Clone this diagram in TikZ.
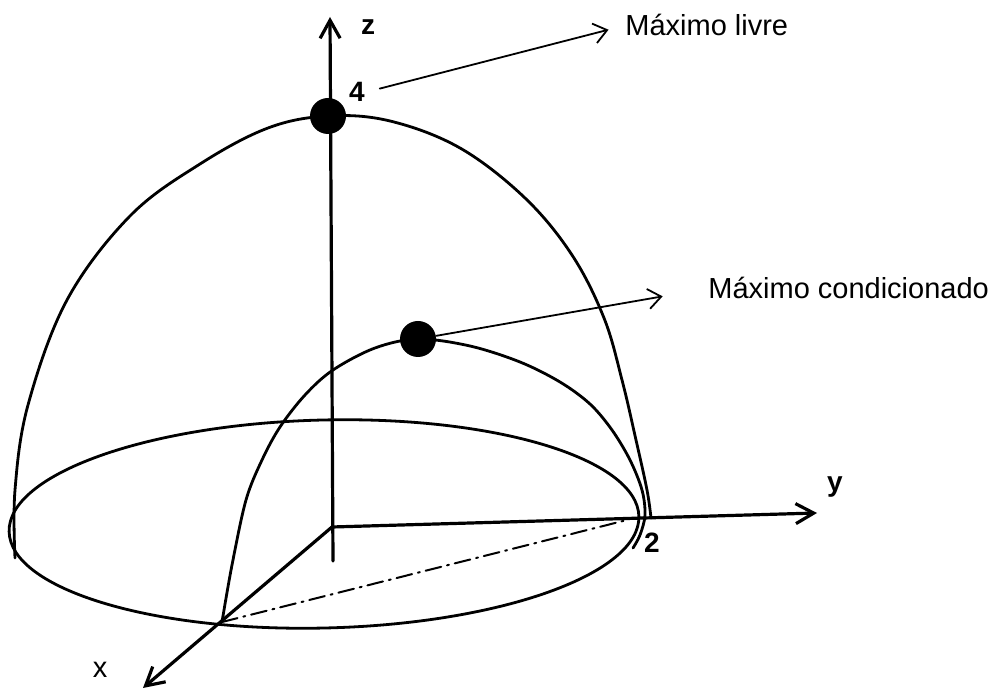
\documentclass[tikz,border=0pt]{standalone}
\usepackage{fontspec}
\setmainfont{Liberation Sans}
\usetikzlibrary{arrows.meta}

\begin{document}
\begin{tikzpicture}[x=0.5pt, y=-0.5pt, line cap=round,
  axis/.style={line width=1.6pt, -{Straight Barb[length=9pt, width=10pt]}},
  curve/.style={line width=1.4pt},
  pointer/.style={line width=0.9pt, -{Straight Barb[length=6.5pt, width=10pt]}},
  lab/.style={font=\fontsize{14}{16}\selectfont\bfseries, inner sep=0pt, anchor=base},
  txt/.style={font=\fontsize{14.5}{17}\selectfont, inner sep=0pt, anchor=base west},
  dot/.style={circle, fill=black, inner sep=0pt, minimum size=18pt}]
  \useasboundingbox (0,0) rectangle (997,689);

  % Axes (origin, tips)
  \coordinate (O) at (332,527);
  \coordinate (zFoot) at (333,561);
  \coordinate (zTip) at (330,17);
  \coordinate (yTip) at (817,513);
  \coordinate (xTip) at (143,688);
  \draw[axis] (zFoot) -- (zTip);
  \draw[axis] (O) -- (yTip);
  \draw[axis] (O) -- (xTip);

  % Base of the dome
  \draw[curve] (324,524) ellipse [x radius=157.5pt, y radius=52pt, rotate=1.4];

  % Large dome (free problem)
  \draw[curve] plot[smooth, tension=0.6] coordinates {(15,558) (15,490) (28,405) (67,300)
    (130,216) (200,164) (268,128) (328,116) (390,121) (460,148) (525,198)
    (572,255) (604,318) (622,380) (636,440) (647,490) (651,518)};

  % Small dome (constrained problem)
  \draw[curve] plot[smooth, tension=0.55] coordinates {(222,622) (232,565) (246,500) (262,460)
    (280,427) (305,395) (333,370) (375,348) (418,339) (470,346) (520,362) (560,382) (590,404)
    (612,430) (630,460) (642,490) (645,515) (640,535) (633,548)};

  % Trace of the constraint plane
  \coordinate (foot) at (222,622);
  \coordinate (yEnd) at (627,520);
  \draw[line width=1pt, dash pattern=on 8pt off 3pt on 1pt off 3pt] (foot) -- (yEnd);

  % Maxima
  \node[dot] (free) at (328,116) {};
  \node[dot] (cond) at (418,339) {};

  % Labels
  \node[lab] (zLab) at (368,35) {z};
  \node[lab] (yLab) at (835,492) {y};
  \node[lab, font=\fontsize{14.5}{17}\selectfont] (xLab) at (100,677) {x};
  \node[lab] (fourLab) at (357,102) {4};
  \node[lab] (twoLab) at (652,553) {2};
  \node[txt] (livreLab) at (625,36) {Máximo livre};
  \node[txt] (condLab) at (708,299) {Máximo condicionado};

  % Pointers to the labels
  \draw[pointer, shorten <=7.5pt, shorten >=8.5pt] (fourLab.east) -- (livreLab.west);
  \draw[pointer, shorten >=23pt] (cond) -- (condLab.west);
\end{tikzpicture}
\end{document}
